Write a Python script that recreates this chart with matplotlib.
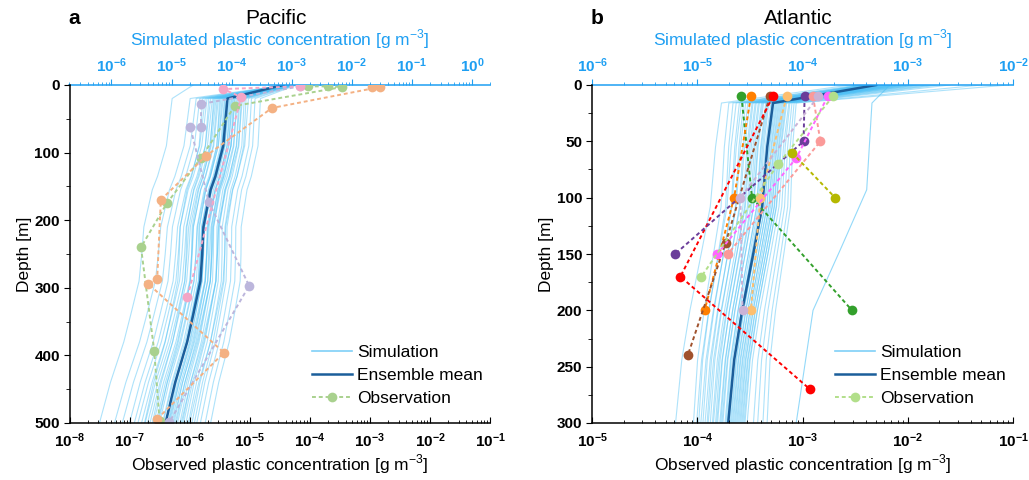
import numpy as np
import matplotlib
matplotlib.use('Agg')
from matplotlib import pyplot as plt, rcParams
from matplotlib.ticker import LogLocator, FuncFormatter, NullFormatter, MultipleLocator
from matplotlib.lines import Line2D

rcParams['font.family'] = ['Liberation Sans', 'DejaVu Sans']
rcParams['mathtext.fontset'] = 'custom'
rcParams['mathtext.rm'] = 'Liberation Sans'
rcParams['mathtext.bf'] = 'Liberation Sans:bold'

SIM_BLUE = '#1e9ff2'     # 模拟轴颜色
MEMBER = '#4cc0f5'       # 集合成员
MEAN = '#1b5e9b'         # 集合平均
DASH = (0, (2, 1.5))

# ---------------- Pacific (all concentrations as log10 g m-3) ----------------
pac_depth = [0, 20, 90, 135, 155, 210, 250, 290, 340, 380, 440, 500]
pac_mean = [-3.14, -4.07, -4.14, -4.27, -4.35, -4.47, -4.49, -4.52, -4.64, -4.74, -4.94, -5.10]
# ensemble members: surface value, offset from mean at 20 m and at 500 m
pac_surf = [-4.64, -3.10, -3.05, -3.12, -2.98, -3.08, -3.02, -3.14, -2.95, -3.06, -3.00,
            -3.11, -2.97, -3.04, -3.09, -2.93, -3.01, -3.13, -2.99, -3.07, -3.03, -2.96,
            -3.10, -3.00, -2.94, -3.06, -3.12, -2.98, -3.04, -2.92, -3.08, -3.02, -2.97,
            -3.05, -2.95, -3.09, -3.01, -2.93, -3.07, -2.99, -3.03, -2.96, -2.94, -2.92]
pac_off_top = [-0.92, -0.62, -0.52, -0.46, -0.41, -0.37, -0.34, -0.31, -0.28, -0.25, -0.23,
               -0.21, -0.19, -0.17, -0.15, -0.13, -0.11, -0.09, -0.07, -0.05, -0.04, -0.02,
               0.00, 0.01, 0.03, 0.04, 0.06, 0.07, 0.09, 0.10, 0.12, 0.13, 0.15,
               0.17, 0.19, 0.21, 0.23, 0.25, 0.28, 0.31, 0.35, 0.40, 0.46, 0.55]
pac_off_bot = [-1.10, -0.85, -0.72, -0.60, -0.35, -0.52, -0.46, -0.22, -0.40, -0.34, -0.12,
               -0.30, -0.26, -0.16, -0.20, 0.04, -0.10, -0.05, -0.14, 0.00, 0.08, -0.04,
               0.05, 0.14, 0.00, 0.18, 0.10, 0.24, 0.06, 0.28, 0.20, 0.12, 0.34,
               0.16, 0.38, 0.30, 0.44, 0.26, 0.48, 0.52, 0.40, 0.58, 0.66, 0.75]
pac_obs = [
    ('#a9d18e', [2, 2, 3, 31, 108, 175, 240, 393, 497],
     [-4.03, -3.70, -3.46, -5.25, -5.81, -6.38, -6.81, -6.59, -6.50]),
    ('#bcb6dc', [2, 28, 62, 62, 173, 297, 499],
     [-4.16, -5.81, -5.81, -5.99, -5.68, -5.01, -6.34]),
    ('#f4a6c6', [2, 6, 18, 314],
     [-4.16, -5.44, -5.14, -6.04]),
    ('#f4b183', [3, 3, 34, 105, 170, 287, 294, 396, 494],
     [-2.96, -2.83, -4.63, -5.73, -6.48, -6.54, -6.69, -5.43, -6.54]),
]

# ---------------- Atlantic ----------------
atl_depth = [0, 16, 55, 108, 146, 200, 244, 300]
atl_mean = [-3.30, -4.28, -4.335, -4.383, -4.46, -4.573, -4.649, -4.706]
atl_surf = [-3.55, -3.40, -3.30, -3.48, -3.20, -3.35, -3.10, -3.42, -3.25, -3.05, -3.38,
            -3.15, -3.45, -3.28, -3.00, -3.33, -3.18, -2.95, -3.22, -3.40, -3.08, -3.30,
            -2.90, -3.12, -3.36, -3.02, -3.26, -2.85, -3.16, -3.44, -2.98, -3.24, -2.80,
            -3.10, -3.32, -2.92, -3.20, -2.75, -3.06, -2.70, -3.14, -2.60, -2.30, -2.05]
atl_off_top = [-0.49, -0.42, -0.38, -0.35, -0.32, -0.30, -0.28, -0.26, -0.24, -0.22, -0.20,
               -0.19, -0.17, -0.16, -0.14, -0.13, -0.11, -0.10, -0.09, -0.07, -0.06, -0.05,
               -0.04, -0.02, -0.01, 0.00, 0.01, 0.02, 0.03, 0.04, 0.05, 0.06, 0.07,
               0.08, 0.09, 0.10, 0.11, 0.12, 0.13, 0.15, 0.16, 0.18, 0.20, 0.22]
atl_off_bot = [-0.50, -0.33, -0.28, -0.30, -0.24, -0.26, -0.20, -0.22, -0.17, -0.19, -0.15,
               -0.12, -0.14, -0.10, -0.11, -0.07, -0.08, -0.05, -0.06, -0.02, -0.03, -0.01,
               0.01, 0.00, 0.03, 0.02, 0.05, 0.04, 0.07, 0.06, 0.09, 0.08, 0.10,
               0.12, 0.11, 0.14, 0.13, 0.16, 0.15, 0.18, 0.24, 0.28, 0.33, 0.37]
atl_out_depth = [0, 16, 93, 146, 200, 300]
atl_out = [-3.17, -3.34, -3.39, -3.64, -3.90, -4.06]
atl_obs = [
    ('#33a02c', [10, 100, 200], [-3.58, -3.48, -2.53]),
    ('#ff7f00', [10, 100, 200], [-3.49, -3.65, -3.93]),
    ('#a0522d', [10, 140, 240], [-3.31, -3.73, -4.09]),
    ('#ff0000', [10, 170, 270], [-3.28, -4.16, -2.93]),
    ('#fdbf6f', [10, 100, 200], [-3.15, -3.40, -3.49]),
    ('#6a3d9a', [10, 50, 150], [-2.98, -2.99, -4.21]),
    ('#fb9a99', [10, 50, 150], [-2.90, -2.83, -3.71]),
    ('#cab2d6', [10, 100, 200], [-2.85, -3.59, -3.57]),
    ('#ff66ff', [10, 65, 150], [-2.76, -3.06, -3.81]),
    ('#b2df8a', [10, 70, 170], [-2.71, -3.23, -3.96]),
    ('#b5b800', [60, 100], [-3.10, -2.69]),
]


def sci_fmt(v, pos):
    return r'$\mathbf{10^{%d}}$' % int(round(np.log10(v)))


def draw_panel(rect, letter, title, depth, mean, surf, off_top, off_bot, obs,
               xlim_obs, xlim_sim, ymax, ystep, leg_color, extra=None):
    ax = fig.add_axes(rect)
    axt = ax.twiny()
    ax.set_zorder(2)
    axt.set_zorder(1)
    ax.patch.set_visible(False)

    # 模拟的集合成员（上轴）
    d = np.array(depth, dtype=float)
    m = np.array(mean)
    for s, a, b in zip(surf, off_top, off_bot):
        off = np.interp(d, [d[1], d[-1]], [a, b])
        prof = m + off
        prof[0] = s
        axt.plot(10 ** prof, d, color=MEMBER, lw=0.8, alpha=0.45)
    if extra is not None:
        axt.plot(10 ** np.array(extra[1]), extra[0], color=MEMBER, lw=0.8, alpha=0.6)
    axt.plot(10 ** m, d, color=MEAN, lw=1.8)

    # 观测（下轴）
    for c, dd, v in obs:
        ax.plot(10 ** np.array(v), dd, ls=DASH, lw=1.4, color=c,
                marker='o', ms=7, mec='none')

    for a in (ax, axt):
        a.set_xscale('log')
        a.set_ylim(ymax, 0)
    ax.set_xlim(*xlim_obs)
    axt.set_xlim(*xlim_sim)

    for a in (ax, axt):
        a.xaxis.set_major_locator(LogLocator(base=10, numticks=20))
        a.xaxis.set_minor_locator(LogLocator(base=10, subs=np.arange(2, 10), numticks=20))
        a.xaxis.set_major_formatter(FuncFormatter(sci_fmt))
        a.xaxis.set_minor_formatter(NullFormatter())

    ax.yaxis.set_major_locator(MultipleLocator(ystep))
    ax.yaxis.set_minor_locator(MultipleLocator(ystep / 2))
    ax.tick_params(axis='y', which='both', direction='out', labelsize=11, pad=3)
    ax.tick_params(axis='y', which='major', length=4)
    ax.tick_params(axis='y', which='minor', length=3)
    for lab in ax.get_yticklabels():
        lab.set_fontweight('bold')
    ax.tick_params(axis='x', which='both', direction='in', top=False, labelsize=11, pad=6)
    ax.tick_params(axis='x', which='major', length=4)
    ax.tick_params(axis='x', which='minor', length=2)
    axt.tick_params(axis='x', which='both', direction='out', color=SIM_BLUE,
                    labelcolor=SIM_BLUE, labelsize=11, pad=3)
    axt.tick_params(axis='x', which='major', length=4)
    axt.tick_params(axis='x', which='minor', length=2)

    for a in (ax, axt):
        a.spines['right'].set_visible(False)
    ax.spines['top'].set_visible(False)
    axt.spines['left'].set_visible(False)
    axt.spines['bottom'].set_visible(False)
    axt.spines['top'].set_color(SIM_BLUE)
    for sp in ('left', 'bottom'):
        ax.spines[sp].set_linewidth(1.1)
    axt.spines['top'].set_linewidth(1.1)

    ax.set_ylabel('Depth [m]', fontsize=12.5, labelpad=2)
    ax.set_xlabel(r'Observed plastic concentration [g m$^{-3}$]', fontsize=12.5, labelpad=2)
    axt.set_xlabel(r'Simulated plastic concentration [g m$^{-3}$]', fontsize=12.5,
                   color=SIM_BLUE, labelpad=8)

    handles = [Line2D([0], [0], color='#7fd0f7', lw=1.2),
               Line2D([0], [0], color=MEAN, lw=1.8),
               Line2D([0], [0], color=leg_color, ls=DASH, lw=1.4, marker='o', ms=7, mec='none')]
    ax.legend(handles, ['Simulation', 'Ensemble mean', 'Observation'], loc='lower right',
              bbox_to_anchor=(1.0, 0.03), frameon=False, fontsize=12.5, handlelength=2.3,
              handletextpad=0.3, labelspacing=0.45, borderaxespad=0)

    x0 = rect[0]
    fig.text(x0 + 5 / 1029, 1 - 18 / 480, letter, fontsize=15, fontweight='bold',
             ha='center', va='center')
    fig.text(x0 + rect[2] / 2 - 4 / 1029, 1 - 18 / 480, title, fontsize=15,
             ha='center', va='center')
    return ax


fig = plt.figure(figsize=(10.29, 4.8), dpi=100)
draw_panel([69.5 / 1029, 57 / 480, 420.5 / 1029, 338 / 480], 'a', 'Pacific',
           pac_depth, pac_mean, pac_surf, pac_off_top, pac_off_bot, pac_obs,
           (1e-8, 1e-1), (2e-7, 2), 500, 100, '#a9d18e')
draw_panel([592 / 1029, 57 / 480, 421 / 1029, 338 / 480], 'b', 'Atlantic',
           atl_depth, atl_mean, atl_surf, atl_off_top, atl_off_bot, atl_obs,
           (1e-5, 1e-1), (1e-6, 1e-2), 300, 50, '#b2df8a',
           extra=(atl_out_depth, atl_out))
plt.savefig('out.png', dpi=100)
